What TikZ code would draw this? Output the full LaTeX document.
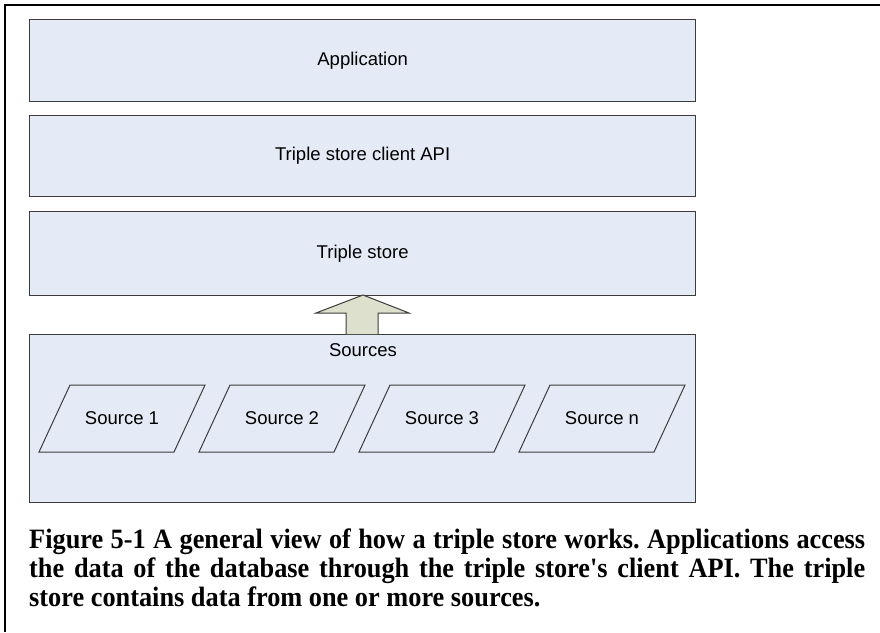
\documentclass[tikz,border=0pt]{standalone}
\usepackage{fontspec}
\setmainfont{Liberation Sans}
\newfontfamily\capfont[FakeStretch=0.94]{Liberation Serif}
\definecolor{boxfill}{RGB}{228,235,246}
\definecolor{boxline}{RGB}{60,60,60}
\definecolor{arrowfill}{RGB}{220,224,204}
\frenchspacing
\begin{document}
\begin{tikzpicture}[x=1pt,y=-1pt,
  layer/.style={draw=boxline,fill=boxfill,line width=1.3pt,minimum width=666pt,anchor=north west,inner sep=0pt},
  lbl/.style={font=\fontsize{18.5}{20}\selectfont,inner sep=0pt},
  para/.style={draw=boxline,fill=boxfill,line width=1pt},
  capline/.style={font=\capfont\bfseries\fontsize{28}{29}\selectfont,anchor=base west,inner sep=0pt}]
\useasboundingbox (0,0) rectangle (880,632);
\fill[white] (0,0) rectangle (880,632);
\draw[line width=2pt,black] (5,632) -- (5,5) -- (880,5);
% layers
\node[layer,minimum height=82pt] (app) at (29,19) {};
\node[lbl] at (app.center) {Application};
\node[layer,minimum height=81pt] (api) at (29,115) {};
\node[lbl] at (api.center) {Triple store client API};
\node[layer,minimum height=84pt] (store) at (29,211) {};
\node[lbl] at (store.center) {Triple store};
\node[layer,minimum height=168pt] (src) at (29,334) {};
\node[lbl,anchor=center] (srclbl) at (363,350) {Sources};
% block arrow
\draw[fill=arrowfill,draw=boxline,line width=1pt] (346,334) -- (346,313) -- (316,313) -- (363,295) -- (409,313) -- (378,313) -- (378,334);
% sources
\foreach \i/\t in {0/Source 1,1/Source 2,2/Source 3,3/Source n}{
  \pgfmathsetmacro{\bl}{39+160*\i}
  \draw[para] (\bl,452) -- (\bl+135,452) -- (\bl+166,385) -- (\bl+31,385) -- cycle;
  \node[lbl] (s\i) at (\bl+83,418.5) {\t};
}
% caption
\node[capline] (c1) at (29,548) {\makebox[836pt][s]{Figure 5-1 A general view of how a triple store works. Applications access}};
\node[capline] (c2) at (29,577) {\makebox[836pt][s]{the data of the database through the triple store's client API. The triple}};
\node[capline] (c3) at (29,606) {store contains data from one or more sources.};
\end{tikzpicture}
\end{document}
